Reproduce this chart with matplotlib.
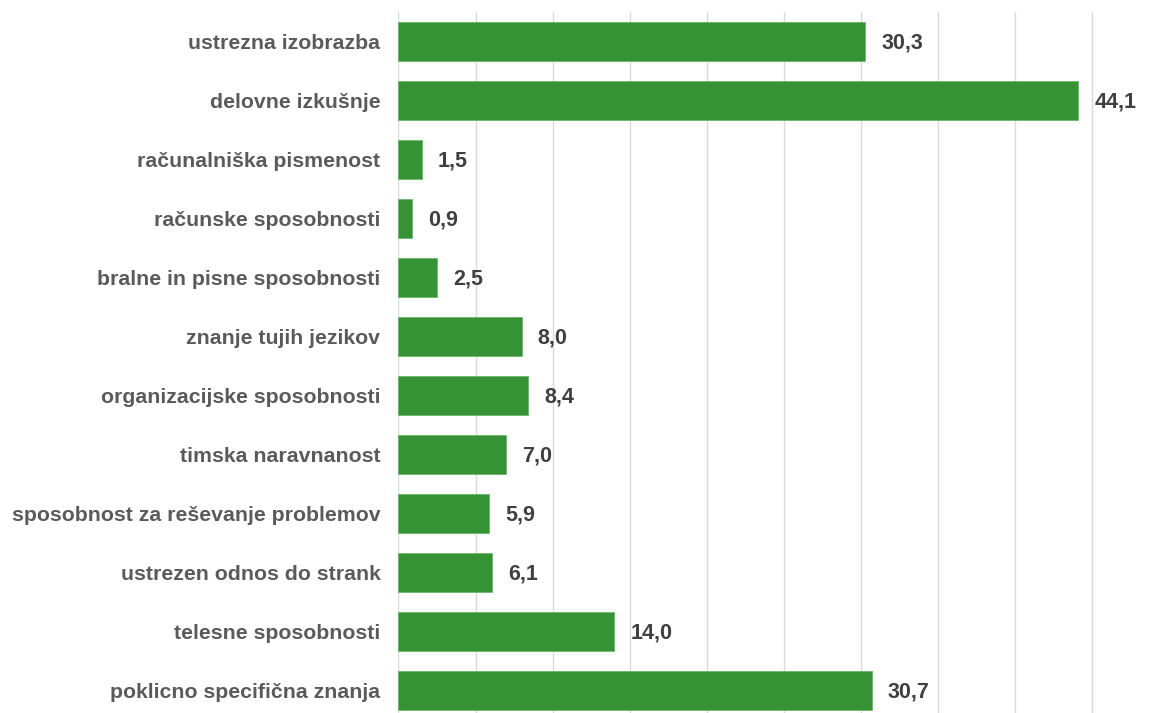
import matplotlib
matplotlib.use("Agg")
import matplotlib.pyplot as plt

categories = [
    "ustrezna izobrazba",
    "delovne izkušnje",
    "računalniška pismenost",
    "računske sposobnosti",
    "bralne in pisne sposobnosti",
    "znanje tujih jezikov",
    "organizacijske sposobnosti",
    "timska naravnanost",
    "sposobnost za reševanje problemov",
    "ustrezen odnos do strank",
    "telesne sposobnosti",
    "poklicno specifična znanja",
]
values = [30.3, 44.1, 1.5, 0.9, 2.5, 8.0, 8.4, 7.0, 5.9, 6.1, 14.0, 30.7]

plt.rcParams["font.family"] = ["Liberation Sans", "DejaVu Sans"]

fig = plt.figure(figsize=(11.57, 7.13), dpi=100)
# axes run a little past the bottom edge, like the cropped original
ax = fig.add_axes([0.3444, -0.0098, 0.6008, 0.993])

y = list(range(len(categories)))
ax.barh(y, values, height=0.66, color="#359335", edgecolor="#6fb56f", linewidth=0.6, zorder=2)

for yi, v in zip(y, values):
    label = f"{v:.1f}".replace(".", ",")
    ax.annotate(label, (v, yi), xytext=(16, -2), textcoords="offset pixels",
                ha="left", va="center", fontsize=15.5, fontweight="bold",
                color="#404040", annotation_clip=False)

ax.set_xlim(0, 45.1)
ax.set_ylim(len(categories) - 0.5, -0.5)
ax.set_xticks(range(0, 46, 5))
ax.xaxis.grid(True, color="#d9d9d9", linewidth=1.0, zorder=0)
ax.set_axisbelow(True)
ax.tick_params(axis="x", length=0, labelbottom=False)
ax.tick_params(axis="y", length=0, pad=13)
ax.set_yticks(y)
ax.set_yticklabels(categories, fontsize=15.3, fontweight="bold", color="#5a5a5a")
for s in ax.spines.values():
    s.set_visible(False)

fig.savefig("out.png", dpi=100)
